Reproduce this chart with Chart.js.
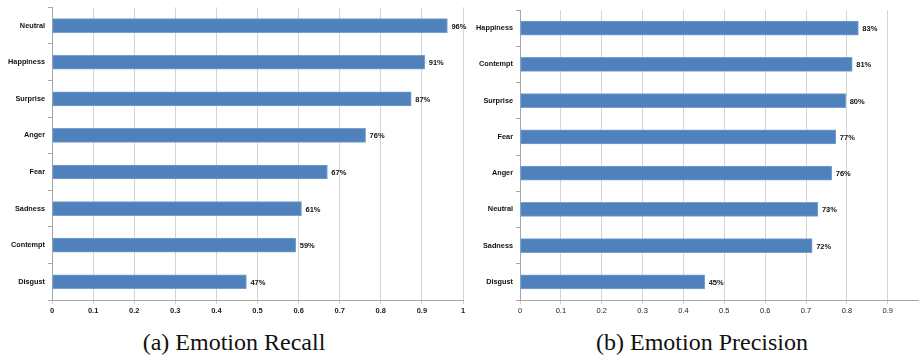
<!DOCTYPE html>
<html>
<head>
<meta charset="utf-8">
<script src="https://cdn.jsdelivr.net/npm/chart.js@4"></script>
<style>
  body { margin: 0; background: #fff; width: 920px; height: 358px; position: relative; overflow: hidden; }
  .box { position: absolute; top: 0; height: 320px; }
  .cap { position: absolute; top: 329px; font-family: "Liberation Serif", "DejaVu Serif", serif; font-size: 24px; color: #111; transform: translateX(-50%); white-space: nowrap; }
</style>
</head>
<body>
<div class="box" style="left:0; width:470px;"><canvas id="recallChart" width="470" height="320"></canvas></div>
<div class="box" style="left:470px; width:450px;"><canvas id="precisionChart" width="450" height="320"></canvas></div>
<div class="cap" style="left:234px;">(a) Emotion Recall</div>
<div class="cap" style="left:702px;">(b) Emotion Precision</div>
<script>
// Recall (left)
const recallLabels = ['Neutral', 'Happiness', 'Surprise', 'Anger', 'Fear', 'Sadness', 'Contempt', 'Disgust'];
const recallValues = [0.962, 0.907, 0.874, 0.763, 0.670, 0.607, 0.593, 0.473];

// Precision (right)
const precisionLabels = ['Happiness', 'Contempt', 'Surprise', 'Fear', 'Anger', 'Neutral', 'Sadness', 'Disgust'];
const precisionValues = [0.828, 0.813, 0.797, 0.773, 0.763, 0.729, 0.715, 0.452];

const barColor = '#4f81bd';
const gridColor = '#d4d4d4';
const axisColor = '#a6a6a6';
const fontFamily = '"Liberation Sans", Arial, sans-serif';

// draws the "96%" labels at the end of each bar
const valueLabels = {
    id: 'valueLabels',
    afterDatasetsDraw(chart) {
        const ctx = chart.ctx;
        const meta = chart.getDatasetMeta(0);
        const values = chart.data.datasets[0].data;
        ctx.save();
        ctx.font = 'bold 7.5px ' + fontFamily;
        ctx.fillStyle = '#111';
        ctx.textBaseline = 'middle';
        ctx.textAlign = 'left';
        meta.data.forEach((bar, i) => {
            ctx.fillText(Math.round(values[i] * 100) + '%', bar.x + 4, bar.y + 1);
        });
        ctx.restore();
    }
};

function makeChart(id, labels, values, opts) {
    const ctx = document.getElementById(id).getContext('2d');
    return new Chart(ctx, {
        type: 'bar',
        data: {
            labels: labels,
            datasets: [{
                data: values,
                backgroundColor: barColor,
                borderColor: '#7aa0cf',
                borderWidth: 1,
                borderSkipped: false,
                barThickness: 14
            }]
        },
        options: {
            indexAxis: 'y',
            responsive: false,
            animation: false,
            layout: { padding: opts.padding },
            plugins: {
                legend: { display: false },
                tooltip: { enabled: false }
            },
            scales: {
                x: {
                    min: 0,
                    max: opts.max,
                    grid: { color: gridColor, tickLength: 4, drawTicks: true },
                    border: { color: axisColor },
                    ticks: {
                        stepSize: 0.1,
                        includeBounds: false,
                        padding: 2,
                        color: '#222',
                        font: { family: fontFamily, size: 7.5, weight: opts.tickWeight },
                        callback: v => Math.round(v * 10) / 10
                    },
                    afterFit: s => { s.height = 20; }
                },
                y: {
                    grid: { drawOnChartArea: false, offset: true, tickLength: 4, color: axisColor },
                    border: { color: axisColor },
                    ticks: {
                        padding: 3,
                        color: '#111',
                        font: { family: fontFamily, size: 7.3, weight: 'bold' }
                    },
                    afterFit: s => { s.width = opts.yWidth; }
                }
            }
        },
        plugins: [valueLabels]
    });
}

makeChart('recallChart', recallLabels, recallValues, {
    max: 1,
    yWidth: 52,
    tickWeight: 'bold',
    padding: { top: 7, right: 7, left: 0, bottom: 0 }
});

makeChart('precisionChart', precisionLabels, precisionValues, {
    max: 0.974,
    yWidth: 50,
    tickWeight: 'normal',
    padding: { top: 10, right: 2, left: 0, bottom: 0 }
});
</script>
</body>
</html>
